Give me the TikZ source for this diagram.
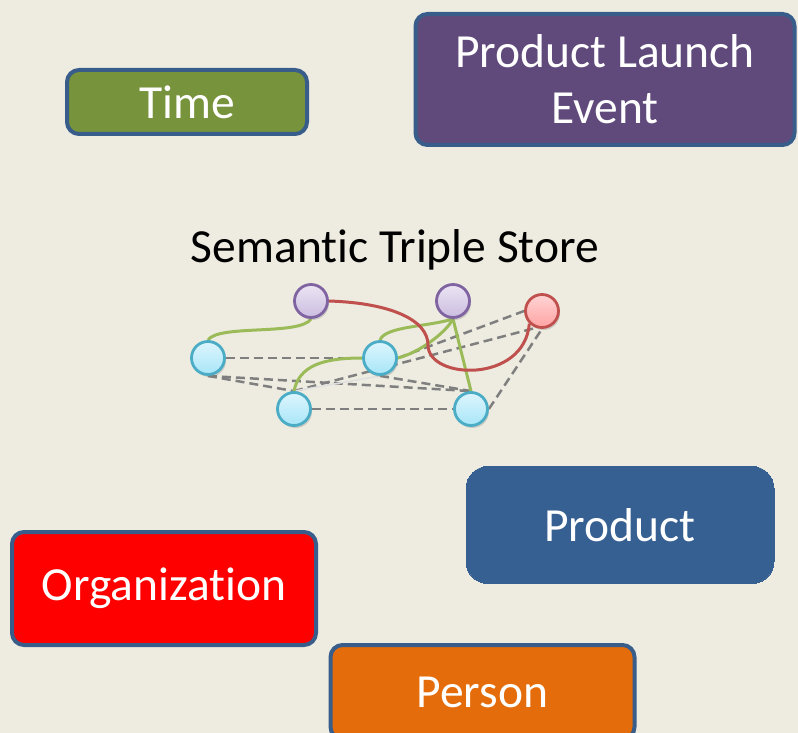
\documentclass[tikz,border=0pt]{standalone}
\usepackage{fontspec}
\setmainfont{Carlito}[RawFeature=-liga]
\usetikzlibrary{shadows}

\definecolor{bgtan}{HTML}{EEECE1}
\definecolor{boxline}{HTML}{385D8A}
\definecolor{timegreen}{HTML}{77933C}
\definecolor{eventpurple}{HTML}{604A7B}
\definecolor{productblue}{HTML}{376092}
\definecolor{personorange}{HTML}{E46C0A}
\definecolor{linkgreen}{HTML}{9BBB59}
\definecolor{linkred}{HTML}{C0504D}
\definecolor{linkgray}{HTML}{7F7F7F}
\definecolor{aqualine}{HTML}{4BACC6}
\definecolor{aquatop}{HTML}{DDF5FD}
\definecolor{aquabot}{HTML}{A8E6F8}
\definecolor{lilacline}{HTML}{8064A2}
\definecolor{lilactop}{HTML}{EBE5F3}
\definecolor{lilacbot}{HTML}{CBBCE0}
\definecolor{rosetop}{HTML}{FFD4D4}
\definecolor{rosebot}{HTML}{FFA3A3}

\pgfdeclarelayer{back}
\pgfdeclarelayer{links}
\pgfsetlayers{back,links,main}

\tikzset{
  entity/.style={rounded corners=12pt, draw=boxline, line width=4pt, text=white,
    align=center, font=\fontsize{47.5}{56}\selectfont},
  res/.style={circle, minimum size=33pt, inner sep=0pt, line width=2.8pt,
    drop shadow={opacity=0.3, shadow xshift=1.5pt, shadow yshift=-2.5pt}},
  blueres/.style={res, draw=aqualine, top color=aquatop, bottom color=aquabot},
  purpleres/.style={res, draw=lilacline, top color=lilactop, bottom color=lilacbot},
  redres/.style={res, draw=linkred, top color=rosetop, bottom color=rosebot},
  rel/.style={line width=3pt},
  same/.style={line width=2.5pt, linkgray, dash pattern=on 9pt off 5pt}
}

\begin{document}
\begin{tikzpicture}[x=1pt, y=-1pt]
    % 背景
    \begin{pgfonlayer}{back}
        \fill[bgtan] (0,0) rectangle (798,733);
    \end{pgfonlayer}
    \useasboundingbox (0,0) rectangle (798,733);

    % 实体类别方框
    \node[entity, fill=timegreen, minimum width=240pt, minimum height=64pt] (time) at (187,102) {Time};
    \node[entity, fill=eventpurple, minimum width=379pt, minimum height=131pt] (event) at (605,79.5) {Product Launch\\Event};
    \node[entity, fill=productblue, draw=productblue, line width=0pt, rounded corners=22pt,
          minimum width=308pt, minimum height=117pt] (product) at (620,525) {Product};
    \node[entity, fill=red, minimum width=304pt, minimum height=113pt] (org) at (164,588.5) {Organization};
    \node[entity, fill=personorange, minimum width=304pt, minimum height=94pt] (person) at (482.5,692) {Person};

    % 标题
    \node[anchor=base, font=\fontsize{47.5}{56}\selectfont] (store) at (395,262) {Semantic Triple Store};

    % 三元组的资源节点
    \node[purpleres] (p1) at (311,301) {};
    \node[purpleres] (p2) at (453,301) {};
    \node[redres] (r1) at (542,311) {};
    \node[blueres] (b1) at (208,358) {};
    \node[blueres] (b2) at (380,358) {};
    \node[blueres] (b3) at (294,409) {};
    \node[blueres] (b4) at (471,409) {};

    \begin{pgfonlayer}{links}
        % 虚线: 同类关系
        \draw[same] (b1.east) -- (b2.west);
        \draw[same] (b1.south) -- (b3.north);
        \draw[same] (b1.south) -- (b4.north);
        \draw[same] (b2.south) -- (b4.north);
        \draw[same] (b2.east) -- (r1.west);
        \draw[same] (b3.north) -- (r1.250);
        \draw[same] (b3.east) -- (b4.west);
        \draw[same] (b4.east) -- (r1.south);
        \draw[line width=1.5pt, black!12] (b3.north) -- (b2.south);

        % 绿色实线
        \draw[rel, linkgreen] (b1.north) .. controls +(10,-16) and +(-11,17) .. (p1.south);
        \draw[rel, linkgreen] (b2.north) .. controls +(5,-14) and +(-25,8) .. (p2.south);
        \draw[rel, linkgreen] (b2.east) .. controls +(20,-5) and +(-8,15) .. (p2.south);
        \draw[rel, linkgreen] (b3.north) .. controls +(5,-25) and +(-40,0) .. (b2.west);
        \draw[rel, linkgreen] (p2.south) -- (b4.north);

        % 红色曲线
        \draw[rel, linkred] (p1.east) .. controls +(62,2) and +(0,-25) .. (428,345)
            .. controls +(0,35) and +(-5,60) .. (r1.south west);
    \end{pgfonlayer}
\end{tikzpicture}
\end{document}
